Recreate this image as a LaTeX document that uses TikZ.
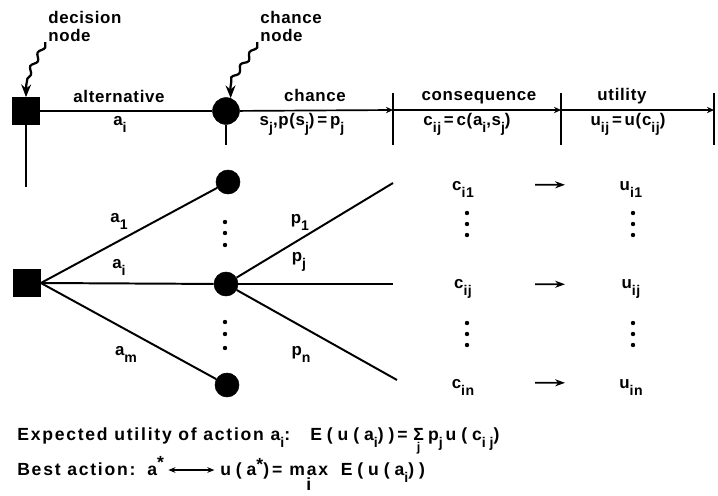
\documentclass[tikz,border=0pt]{standalone}
\usepackage{fontspec}
\setmainfont{Liberation Sans}
\newfontfamily\lblfont[LetterSpace=4]{Liberation Sans}
\newfontfamily\txtfont[LetterSpace=10]{Liberation Sans}
\newfontfamily\frmfont[LetterSpace=28]{Liberation Sans}
\usetikzlibrary{
  arrows.meta,
  decorations.pathmorphing
}
\newcommand{\lo}[1]{\raisebox{-5pt}{\fontsize{10}{10}\selectfont #1}}

\begin{document}
\begin{tikzpicture}[
  x=0.025cm, y=-0.025cm,
  dec/.style={draw, fill=black, rectangle, minimum size=0.68cm, inner sep=0pt},
  chn/.style={draw, fill=black, circle, minimum size=0.67cm, inner sep=0pt},
  chs/.style={chn, minimum size=0.6cm},
  edge/.style={line width=1.4pt},
  seg/.style={line width=1.2pt, -{Stealth[length=5pt,width=4.5pt]}},
  tick/.style={line width=1.2pt},
  lbl/.style={font=\lblfont\fontsize{12}{13}\selectfont\bfseries, inner sep=0pt, anchor=base},
  txt/.style={font=\txtfont\fontsize{12.5}{14}\selectfont\bfseries, inner sep=0pt, anchor=base west},
  frm/.style={txt, font=\frmfont\fontsize{12.5}{14}\selectfont\bfseries},
  cu/.style={line width=1.2pt, -{Stealth[length=7pt,width=5pt]}, shorten <=1.8cm, shorten >=1.65cm},
  squig/.style={line width=1.6pt, decorate,
                decoration={snake, amplitude=1.6pt, segment length=11pt, post length=8pt},
                -{Stealth[length=9pt,width=7pt]}}
]
\path[use as bounding box, fill=white] (0,0) rectangle (718,495);

%% Legend row: decision node and chance node
\node[dec] (dtop) at (26,111) {};
\node[chn] (ctop) at (226,111) {};
\node[lbl, anchor=north west, align=left] (dlab) at (48,11) {decision\\node};
\node[lbl, anchor=north west, align=left] (clab) at (260,11) {chance\\node};
\draw[squig] ([xshift=-2pt]dlab.south west) to[out=-115,in=95] (dtop.north);
\draw[squig] ([xshift=-2pt]clab.south west) to[out=-115,in=100] (ctop.70);

\coordinate (dend) at (26,187);
\coordinate (cend) at (226,145);
\draw[edge] (dtop) -- (ctop);
\draw[edge] (dtop) -- (dend);
\draw[edge] (ctop) -- (cend);

%% Column separators
\foreach \x/\n in {393/t1, 561/t2, 714/t3} {
  \coordinate (\n) at (\x,110);
  \draw[tick] (\x,93) -- (\x,145);
}
\draw[seg] (ctop) -- (t1);
\draw[seg] (t1) -- (t2);
\draw[seg] (t2) -- (t3);

%% Column headings
\node[lbl] (alt) at (119,102) {alternative};
\node[lbl] (ai)  at (120,125) {a\lo{i}};
\node[lbl] (chl) at (315,101) {chance};
\node[lbl] (sj)  at (302,125) {s\lo{j},p(s\lo{j})\,=\,p\lo{j}};
\node[lbl] (csq) at (479,100) {consequence};
\node[lbl] (cij) at (467,125) {c\lo{ij}\,=\,c(a\lo{i},s\lo{j})};
\node[lbl] (utl) at (622,100) {utility};
\node[lbl] (uij) at (628,125) {u\lo{ij}\,=\,u(c\lo{ij})};

%% Tree
\node[dec] (dnode) at (27,283) {};
\node[chs] (c1) at (228,182) {};
\node[chs] (cj) at (226,284) {};
\node[chs] (cn) at (227,385) {};
\coordinate (e1) at (393,183);
\coordinate (ej) at (393,284);
\coordinate (en) at (397,380);
\draw[edge] (dnode.east) -- (c1);
\draw[edge] (dnode.east) -- (cj);
\draw[edge] (dnode.east) -- (cn);
\draw[edge] (cj) -- (e1);
\draw[edge] (cj) -- (ej);
\draw[edge] (cj) -- (en);

\node[lbl] (a1) at (119,222) {a\lo{1}};
\node[lbl] (a2) at (119,268) {a\lo{i}};
\node[lbl] (am) at (126,355) {a\lo{m}};
\node[lbl] (p1) at (300,223) {p\lo{1}};
\node[lbl] (pj) at (299,261) {p\lo{j}};
\node[lbl] (pn) at (301,355) {p\lo{n}};

%% Consequences and utilities
\foreach \r/\s/\y in {1/i1/190, j/ij/288, n/in/388} {
  \node[lbl] (c\r) at (463,\y) {c\lo{\s}};
  \node[lbl] (u\r) at (631,\y) {u\lo{\s}};
  \draw[cu] ([yshift=3pt]c\r.center) -- ([yshift=3pt]u\r.center);
}

%% Vertical dots
\foreach \x/\ya/\yb/\yc in {225/222/233/245, 225/322/334/348,
                            467/213/224/235, 633/213/224/235,
                            467/323/334/345, 633/323/334/345}
  \foreach \y in {\ya,\yb,\yc}
    \fill (\x,\y) circle[radius=0.055cm];

%% Expected utility and best action
\node[txt] (eu)  at (17,440) {Expected utility of action a\lo{i}:};
\node[frm] (euf) at (310,440) {E(u(a\lo{i}))\,=\hspace{4pt}$\mathop{\hbox{Σ}}\limits_{\hbox{\fontsize{9}{9}\selectfont j}}$\hspace{3pt}p\lo{j}\,u(c\lo{ij})};
\node[txt] (ba)  at (17,475) {Best action:};
\node[txt] (bas) at (147,475) {a\raisebox{0.7ex}{*}};
\node[frm] (bar) at (220,475) {u(a\raisebox{0.5ex}{*})\,=\hspace{5pt}$\mathop{\hbox{\txtfont\bfseries max}}\limits_{\hbox{i}}$\ \,E(u(a\lo{i}))};
\draw[line width=1pt, {Stealth[length=5pt,width=4pt]}-{Stealth[length=5pt,width=4pt]}, shorten <=3pt, shorten >=4pt]
  ([yshift=-3pt]bas.east) -- ([yshift=-3pt]bas.east -| bar.west);
\end{tikzpicture}
\end{document}
